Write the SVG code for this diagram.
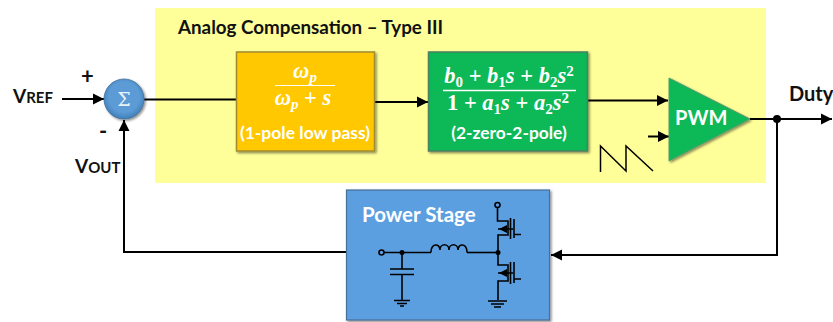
<svg xmlns="http://www.w3.org/2000/svg" width="833" height="322" viewBox="0 0 833 322">
<defs>
<style>
text{font-family:Lato,"Open Sans","Liberation Sans",sans-serif;font-weight:700}
.lbl{fill:#111}
.wht{fill:#fff}
.math{font-family:"Liberation Serif","DejaVu Serif",serif;font-style:italic;font-weight:700;fill:#fff;font-size:22.500px}
.up{font-style:normal}
.sub{font-size:15px}
.wire{fill:none;stroke:#000;stroke-width:2}
.sch{fill:none;stroke:#000;stroke-width:1.6}
.dot{fill:#000}
</style>
<marker id="arr" markerUnits="userSpaceOnUse" markerWidth="12" markerHeight="12" refX="11" refY="6" orient="auto"><path d="M0 0.500L11 6L0 11.500Z" fill="#000"/></marker>
<radialGradient id="ball" cx="0.5" cy="0.45" r="0.55"><stop offset="0.7" stop-color="#5b9bd5"/><stop offset="1" stop-color="#3f7fb8"/></radialGradient>
<filter id="sh" x="-10%" y="-10%" width="125%" height="125%"><feDropShadow dx="1.5" dy="1.5" stdDeviation="1.2" flood-color="#000" flood-opacity="0.45"/></filter>
</defs>
<rect width="833" height="322" fill="#fff"/>
<rect id="compensation-bg" x="155" y="8" width="611" height="175" fill="#ffff99"/>
<text id="comp-title" class="lbl" x="178" y="34" font-size="18.800">Analog Compensation – Type III</text>

<g id="connectors">
<path class="wire" d="M62 99H104" marker-end="url(#arr)"/>
<path class="wire" d="M144 99.500H236"/>
<path class="wire" d="M375 102H428" marker-end="url(#arr)"/>
<path class="wire" d="M588 100.500H668" marker-end="url(#arr)"/>
<path class="wire" d="M648 136.500H669" marker-end="url(#arr)"/>
<path class="wire" d="M750 119H832" marker-end="url(#arr)"/>
<path class="wire" d="M777 119V255H551" marker-end="url(#arr)"/>
<path class="wire" d="M346 252H124V120" marker-end="url(#arr)"/>
<circle class="dot" cx="777" cy="119" r="4"/>
<path class="wire" style="stroke-width:1.5" d="M600.500 172V146L626 171V146L653 171"/>
</g>

<g id="vref"><text class="lbl" x="13" y="103" font-size="19">V<tspan font-size="15">REF</tspan></text></g>
<g id="plus"><text class="lbl" x="81" y="84" font-size="22">+</text></g>
<g id="minus"><text class="lbl" x="99" y="139" font-size="22">-</text></g>
<g id="vout"><text class="lbl" x="75" y="173" font-size="19">V<tspan font-size="15">OUT</tspan></text></g>

<g id="sum">
<circle cx="124" cy="99" r="20" fill="url(#ball)" stroke="#41719c" stroke-width="0.8" filter="url(#sh)"/>
<text x="124" y="106" text-anchor="middle" font-size="19" style="font-family:'DejaVu Serif',serif;font-weight:400" fill="#e8f2fb">Σ</text>
</g>

<g id="low-pass">
<rect x="236.500" y="52" width="138" height="99" fill="#ffc800" stroke="#a08a30" stroke-width="1.500" filter="url(#sh)"/>
<text class="math" x="305" y="78" text-anchor="middle">ω<tspan class="sub" dy="4">p</tspan></text>
<path d="M275 85.500H335" stroke="#fff" stroke-width="1"/>
<text class="math" x="303" y="105" text-anchor="middle">ω<tspan class="sub" dy="4">p</tspan><tspan class="up" dy="-4"> + </tspan>s</text>
<text class="wht" x="305" y="139" text-anchor="middle" font-size="17.500">(1-pole low pass)</text>
</g>

<g id="two-zero-two-pole">
<rect x="428.500" y="52" width="159" height="99" fill="#08b856" stroke="#4c7f5f" stroke-width="1.500" filter="url(#sh)"/>
<text class="math" x="509" y="83" text-anchor="middle">b<tspan class="sub up" dy="4">0</tspan><tspan class="up" dy="-4"> + </tspan>b<tspan class="sub up" dy="4">1</tspan><tspan dy="-4">s</tspan><tspan class="up"> + </tspan>b<tspan class="sub up" dy="4">2</tspan><tspan dy="-4">s</tspan><tspan class="sub up" dy="-7">2</tspan></text>
<path d="M443 90.500H576" stroke="#fff" stroke-width="1.500"/>
<text class="math" x="508" y="110" text-anchor="middle"><tspan class="up">1 + </tspan>a<tspan class="sub up" dy="4">1</tspan><tspan dy="-4">s</tspan><tspan class="up"> + </tspan>a<tspan class="sub up" dy="4">2</tspan><tspan dy="-4">s</tspan><tspan class="sub up" dy="-7">2</tspan></text>
<text class="wht" x="509" y="139" text-anchor="middle" font-size="17.400">(2-zero-2-pole)</text>
</g>

<g id="pwm">
<path d="M669 78L750 119L669 161Z" fill="#08b856" stroke="#5a9a70" stroke-width="1" filter="url(#sh)"/>
<text class="wht" x="675" y="125" font-size="20">PWM</text>
</g>

<g id="duty"><text class="lbl" x="789" y="101" font-size="20">Duty</text></g>

<g id="power-stage">
<rect x="346.500" y="190" width="203" height="130" fill="#5b9fe0" stroke="#4a6f96" stroke-width="1.200" filter="url(#sh)"/>
<text class="wht" x="362" y="222" font-size="20.500">Power Stage</text>
<g class="sch">
<circle cx="381.500" cy="252.500" r="2.500"/>
<path d="M384 252.500H431"/>
<path d="M431 252.500C431 243 440 243 440 250C440 243 449 243 449 250C449 243 458 243 458 250C458 243 467 243 467 252.500"/>
<path d="M467 252.500H498"/>
<path d="M402 252.500V269M390 269H414M390 274.500H414M402 274.500V301M394 300.500H410M397 303.500H407M400 306H404"/>
<circle cx="497.500" cy="205" r="2.500"/>
<path d="M497.500 207.500V221H508V235H498V252.500"/>
<path d="M498 252.500V265H508V281H498V300M488 301H507M491 304H504M494 307H501"/>
<path d="M510.500 218V239M510.500 262V284"/>
<path d="M514 219V238M514 262V283"/>
<path d="M514 234.500H521M514 279H521"/>
<path d="M498 229H513M498 273H513"/>
</g>
<path class="dot" d="M499 229L507 225V233ZM499 273L507 269V277Z"/>
<circle class="dot" cx="402" cy="252.500" r="2.500"/>
<circle class="dot" cx="498" cy="252.500" r="2.500"/>
</g>
</svg>
